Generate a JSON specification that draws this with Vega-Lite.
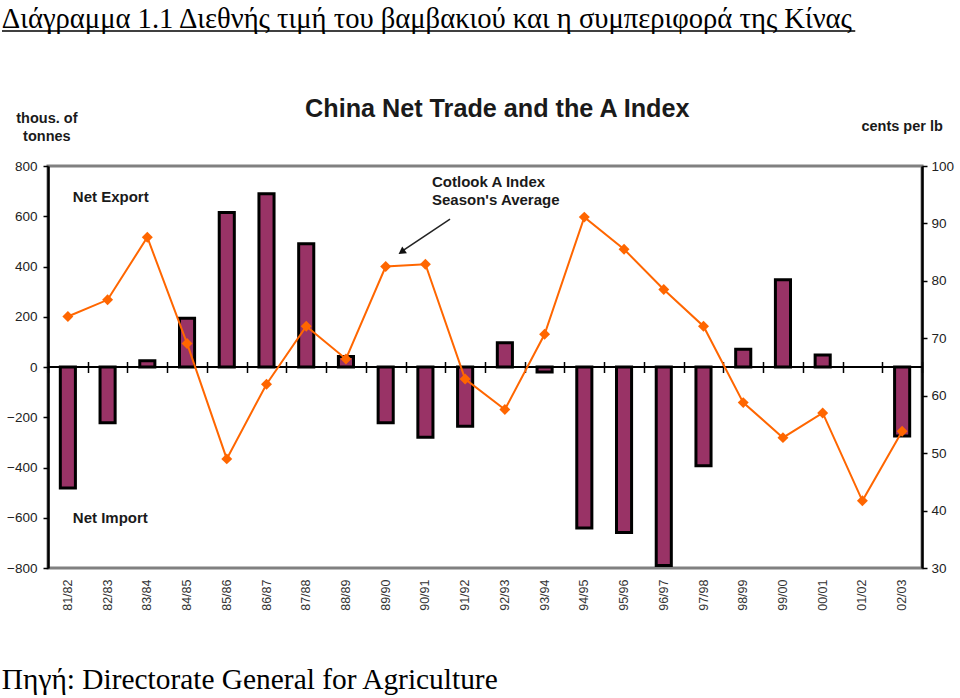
{
  "$schema": "https://vega.github.io/schema/vega-lite/v6.json",
  "width": 874,
  "height": 402,
  "autosize": {"type": "none"},
  "padding": {"left": 48, "top": 166, "right": 38, "bottom": 130},
  "background": "white",
  "config": {
    "view": {"stroke": "#808080", "strokeWidth": 3},
    "font": "Liberation Sans",
    "axis": {"labelFont": "Liberation Sans", "grid": false}
  },
  "datasets": {
    "trade": [
      {"season": "81/82", "net_trade": -482, "a_index": 73.8},
      {"season": "82/83", "net_trade": -222, "a_index": 76.7},
      {"season": "83/84", "net_trade": 25, "a_index": 87.6},
      {"season": "84/85", "net_trade": 194, "a_index": 69.1},
      {"season": "85/86", "net_trade": 615, "a_index": 49.0},
      {"season": "86/87", "net_trade": 690, "a_index": 62.0},
      {"season": "87/88", "net_trade": 491, "a_index": 72.1},
      {"season": "88/89", "net_trade": 42, "a_index": 66.4},
      {"season": "89/90", "net_trade": -222, "a_index": 82.5},
      {"season": "90/91", "net_trade": -280, "a_index": 82.9},
      {"season": "91/92", "net_trade": -236, "a_index": 62.9},
      {"season": "92/93", "net_trade": 97, "a_index": 57.6},
      {"season": "93/94", "net_trade": -20, "a_index": 70.7},
      {"season": "94/95", "net_trade": -641, "a_index": 91.1},
      {"season": "95/96", "net_trade": -659, "a_index": 85.5},
      {"season": "96/97", "net_trade": -790, "a_index": 78.5},
      {"season": "97/98", "net_trade": -393, "a_index": 72.1},
      {"season": "98/99", "net_trade": 71, "a_index": 58.8},
      {"season": "99/00", "net_trade": 347, "a_index": 52.7},
      {"season": "00/01", "net_trade": 48, "a_index": 57.0},
      {"season": "01/02", "net_trade": null, "a_index": 41.7},
      {"season": "02/03", "net_trade": -275, "a_index": 53.8}
    ]
  },
  "data": {"name": "trade"},
  "layer": [
    {
      "mark": {"type": "bar", "width": {"band": 0.38}, "fill": "#993366", "stroke": "#000000", "strokeWidth": 3},
      "encoding": {
        "x": {
          "field": "season", "type": "nominal", "sort": null,
          "scale": {
            "domain": ["81/82","82/83","83/84","84/85","85/86","86/87","87/88","88/89","89/90","90/91","91/92","92/93","93/94","94/95","95/96","96/97","97/98","98/99","99/00","00/01","01/02","02/03"],
            "paddingInner": 0, "paddingOuter": 0
          },
          "axis": {"orient": "bottom", "title": null, "ticks": false, "domain": false, "labelAngle": -90, "labelFontSize": 12.5, "labelColor": "#333333", "labelPadding": 11, "labelOverlap": false, "labelBound": false}
        },
        "y": {
          "field": "net_trade", "type": "quantitative",
          "scale": {"domain": [-800, 800], "nice": false},
          "axis": {"orient": "left", "title": null, "values": [-800,-600,-400,-200,0,200,400,600,800], "tickSize": 5, "tickColor": "#000000", "tickWidth": 1.5, "domainColor": "#000000", "domainWidth": 2.5, "labelFontSize": 13.5, "labelColor": "#222222", "labelPadding": 6}
        }
      }
    },
    {
      "data": {"values": [{"zero": 0}]},
      "mark": {"type": "rule", "color": "#000000", "strokeWidth": 2},
      "encoding": {"y": {"field": "zero", "type": "quantitative", "scale": {"domain": [-800, 800], "nice": false}, "axis": null}}
    },
    {
      "data": {"values": [{"label": "Διάγραμμα 1.1 Διεθνής τιμή του βαμβακιού και η συμπεριφορά της Κίνας"}]},
      "mark": {"type": "text", "align": "left", "baseline": "alphabetic", "dx": -66, "font": "Liberation Serif", "fontSize": 28.6, "color": "#000000"},
      "encoding": {"x": {"datum": "81/82", "axis": null}, "y": {"datum": 1351, "scale": {"domain": [-800, 800], "nice": false}, "axis": null}, "text": {"field": "label"}}
    },
    {
      "data": {"values": [{"label": "title underline"}]},
      "mark": {"type": "rule", "color": "#000000", "strokeWidth": 1.5},
      "encoding": {
        "x": {"datum": "81/82", "bandPosition": -1.158, "axis": null},
        "x2": {"datum": "01/02", "bandPosition": 0.32},
        "y": {"datum": 1337, "scale": {"domain": [-800, 800], "nice": false}, "axis": null}
      }
    },
    {
      "data": {"values": [{"label": "Πηγή: Directorate General for Agriculture"}]},
      "mark": {"type": "text", "align": "left", "baseline": "alphabetic", "dx": -66, "font": "Liberation Serif", "fontSize": 29.4, "color": "#000000"},
      "encoding": {"x": {"datum": "81/82", "axis": null}, "y": {"datum": -1282, "scale": {"domain": [-800, 800], "nice": false}, "axis": null}, "text": {"field": "label"}}
    },
    {
      "data": {"values": [{"label": "China Net Trade and the A Index"}]},
      "mark": {"type": "text", "align": "center", "baseline": "alphabetic", "dx": -7.6, "fontSize": 25.2, "fontWeight": "bold", "color": "#1a1a1a"},
      "encoding": {"x": {"datum": "92/93", "axis": null}, "y": {"datum": 994, "scale": {"domain": [-800, 800], "nice": false}, "axis": null}, "text": {"field": "label"}}
    },
    {
      "data": {"values": [{"label": "thous. of\ntonnes"}]},
      "mark": {"type": "text", "align": "center", "baseline": "alphabetic", "dx": -21, "fontSize": 14.5, "fontWeight": "bold", "color": "#1a1a1a", "lineBreak": "\n", "lineHeight": 18},
      "encoding": {"x": {"datum": "81/82", "axis": null}, "y": {"datum": 970, "scale": {"domain": [-800, 800], "nice": false}, "axis": null}, "text": {"field": "label"}}
    },
    {
      "data": {"values": [{"label": "cents per lb"}]},
      "mark": {"type": "text", "align": "center", "baseline": "alphabetic", "fontSize": 14.5, "fontWeight": "bold", "color": "#1a1a1a"},
      "encoding": {"x": {"datum": "02/03", "axis": null}, "y": {"datum": 940, "scale": {"domain": [-800, 800], "nice": false}, "axis": null}, "text": {"field": "label"}}
    },
    {
      "data": {"values": [{"label": "Net Export"}]},
      "mark": {"type": "text", "align": "left", "baseline": "alphabetic", "dx": 5, "fontSize": 15, "fontWeight": "bold", "color": "#1a1a1a"},
      "encoding": {"x": {"datum": "81/82", "axis": null}, "y": {"datum": 658, "scale": {"domain": [-800, 800], "nice": false}, "axis": null}, "text": {"field": "label"}}
    },
    {
      "data": {"values": [{"label": "Net Import"}]},
      "mark": {"type": "text", "align": "left", "baseline": "alphabetic", "dx": 5, "fontSize": 15, "fontWeight": "bold", "color": "#1a1a1a"},
      "encoding": {"x": {"datum": "81/82", "axis": null}, "y": {"datum": -619, "scale": {"domain": [-800, 800], "nice": false}, "axis": null}, "text": {"field": "label"}}
    },
    {
      "data": {"values": [{"label": "Cotlook A Index\nSeason's Average"}]},
      "mark": {"type": "text", "align": "left", "baseline": "alphabetic", "dx": 6.6, "fontSize": 15, "fontWeight": "bold", "color": "#1a1a1a", "lineBreak": "\n", "lineHeight": 18.5},
      "encoding": {"x": {"datum": "90/91", "axis": null}, "y": {"datum": 718, "scale": {"domain": [-800, 800], "nice": false}, "axis": null}, "text": {"field": "label"}}
    },
    {
      "data": {"values": [{"label": "arrow"}]},
      "mark": {"type": "rule", "color": "#222222", "strokeWidth": 1.5},
      "encoding": {
        "x": {"datum": "91/92", "bandPosition": 0.12, "axis": null},
        "x2": {"datum": "89/90", "bandPosition": 0.96},
        "y": {"datum": 589, "scale": {"domain": [-800, 800], "nice": false}, "axis": null},
        "y2": {"datum": 466}
      }
    },
    {
      "data": {"values": [{"label": "arrowhead"}]},
      "mark": {"type": "point", "shape": "triangle-up", "filled": true, "color": "#111111", "opacity": 1, "size": 70, "angle": 236},
      "encoding": {
        "x": {"datum": "89/90", "bandPosition": 0.9, "axis": null},
        "y": {"datum": 458, "scale": {"domain": [-800, 800], "nice": false}, "axis": null}
      }
    },
    {
      "mark": {"type": "line", "color": "#FF6600", "strokeWidth": 2},
      "encoding": {
        "x": {
          "field": "season", "type": "nominal", "sort": null,
          "axis": {"orient": "top", "offset": -206.5, "title": null, "domain": false, "labels": false, "ticks": true, "tickSize": 11, "tickBand": "extent", "tickColor": "#000000", "tickWidth": 1.5}
        },
        "y": {
          "field": "a_index", "type": "quantitative",
          "scale": {"domain": [30, 100], "nice": false, "zero": false},
          "axis": {"orient": "right", "title": null, "values": [30,40,50,60,70,80,90,100], "tickSize": 5, "tickColor": "#000000", "tickWidth": 1.5, "domainColor": "#000000", "domainWidth": 2.5, "labelFontSize": 13.5, "labelColor": "#222222", "labelPadding": 4}
        }
      }
    },
    {
      "mark": {"type": "point", "shape": "diamond", "filled": true, "color": "#FF6600", "opacity": 1, "size": 120},
      "encoding": {
        "x": {"field": "season", "type": "nominal", "sort": null, "axis": null},
        "y": {"field": "a_index", "type": "quantitative", "scale": {"domain": [30, 100], "nice": false, "zero": false}, "axis": null}
      }
    }
  ],
  "resolve": {"scale": {"y": "independent"}}
}
